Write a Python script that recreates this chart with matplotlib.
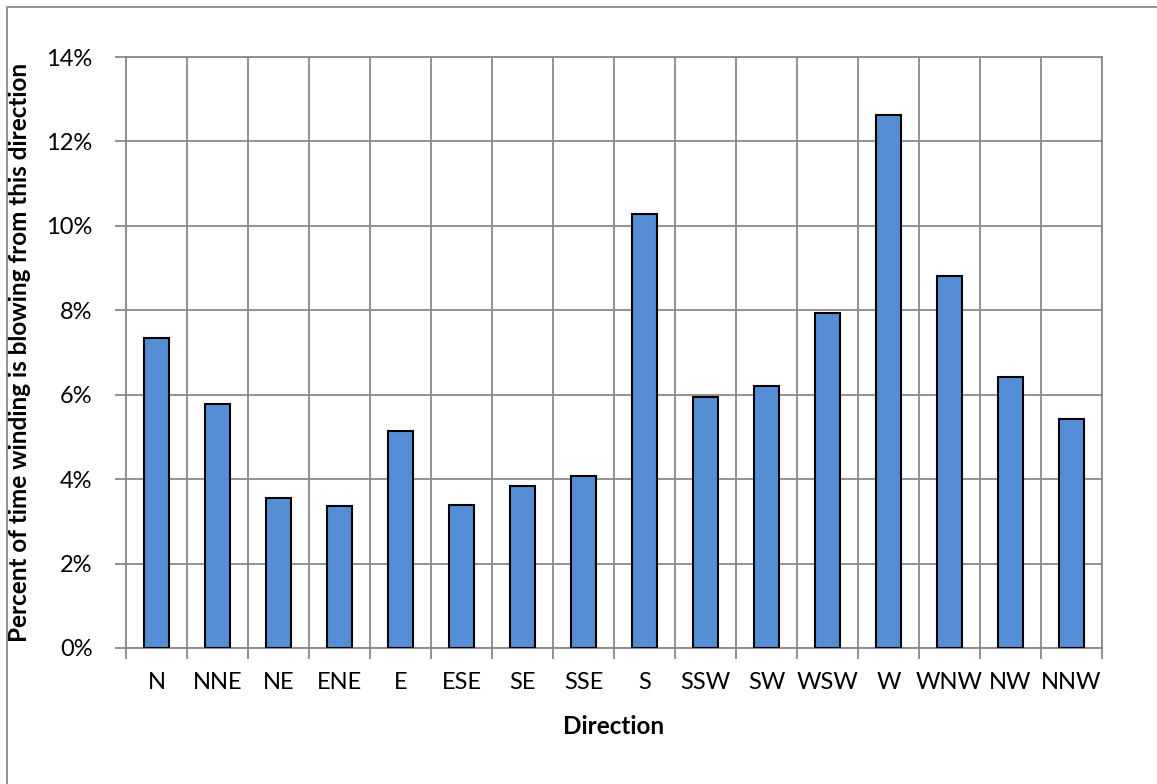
import matplotlib.pyplot as plt
import numpy as np
from matplotlib.ticker import PercentFormatter, FixedLocator
from matplotlib.patches import Rectangle

plt.rcParams['font.family'] = ['Lato', 'DejaVu Sans']

directions = ['N', 'NNE', 'NE', 'ENE', 'E', 'ESE', 'SE', 'SSE',
              'S', 'SSW', 'SW', 'WSW', 'W', 'WNW', 'NW', 'NNW']
percent_time = [7.34, 5.78, 3.56, 3.36, 5.14, 3.38, 3.84, 4.07,
                10.27, 5.95, 6.20, 7.93, 12.62, 8.81, 6.42, 5.42]

grid_col = '#898989'

fig = plt.figure(figsize=(11.57, 7.84), dpi=100)
ax = fig.add_axes([126 / 1157, 1 - 648 / 784, 976 / 1157, 591 / 784])

x = np.arange(len(directions))
ax.bar(x, percent_time, width=0.41, color='#558ed5', edgecolor='black',
       linewidth=1.5, zorder=3)

ax.set_xlim(-0.5, len(directions) - 0.5)
ax.set_ylim(0, 14)
ax.set_yticks(np.arange(0, 15, 2))
ax.yaxis.set_major_formatter(PercentFormatter(decimals=0))
ax.set_xticks(x)
ax.set_xticklabels(directions)
ax.xaxis.set_minor_locator(FixedLocator(np.arange(-0.5, len(directions), 1)))

ax.tick_params(axis='x', which='major', length=0, pad=17, labelsize=17)
ax.tick_params(axis='x', which='minor', length=8, width=1.3, color=grid_col)
ax.tick_params(axis='y', length=8, width=1.3, color=grid_col, pad=16,
               labelsize=17)

ax.grid(axis='y', which='major', color=grid_col, linewidth=1.3)
ax.grid(axis='x', which='minor', color=grid_col, linewidth=1.3)
ax.set_axisbelow(True)
for s in ax.spines.values():
    s.set_color(grid_col)
    s.set_linewidth(1.3)

ax.set_xlabel('Direction', fontsize=17.5, fontweight='bold', va='center')
ax.xaxis.set_label_coords(0.5, -78 / 591)
ax.set_ylabel('Percent of time winding is blowing from this direction',
              fontsize=17.5, fontweight='bold', va='center')
ax.yaxis.set_label_coords(-106 / 976, 0.5)

# chart area frame
fig.patches.append(Rectangle((7 / 1157, -0.1), 1.2, 1 - 7 / 784 + 0.1,
                             transform=fig.transFigure, fill=False,
                             edgecolor=grid_col, linewidth=1.3))

fig.savefig('out.png', dpi=100)
